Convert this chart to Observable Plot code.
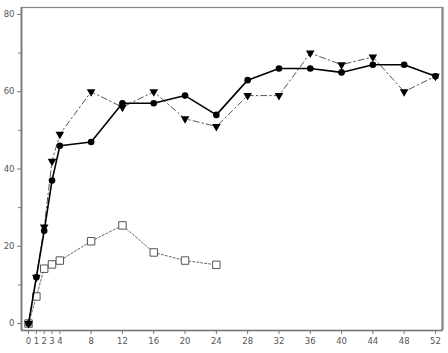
<!DOCTYPE html>
<html><head><meta charset="utf-8">
<script src="https://cdn.jsdelivr.net/npm/d3@7"></script>
<script src="https://cdn.jsdelivr.net/npm/@observablehq/plot@0.6"></script>
<style>body{margin:0;background:#fff}</style>
</head><body><div id="chart"></div>
<script>
const weeksA = [0,1,2,3,4,8,12,16,20,24,28,32,36,40,44,48,52];
const seriesA = [0,12,24,37,46,47,57,57,59,54,63,66,66,65,67,67,64];
const weeksB = [0,1,2,3,4,8,12,16,20,24,28,32,36,40,44,48,52];
const seriesB = [0,12,25,42,49,60,56,60,53,51,59,59,70,67,69,60,64];
const weeksC = [0,1,2,3,4,8,12,16,20,24];
const seriesC = [0,7,14.2,15.3,16.3,21.3,25.4,18.4,16.3,15.2];
const xTicks = [0,1,2,3,4,8,12,16,20,24,28,32,36,40,44,48,52];
const yTicks = [0,20,40,60,80];
const yMinor = [10,30,50,70];

const A = weeksA.map((x,i)=>({x,y:seriesA[i]}));
const B = weeksB.map((x,i)=>({x,y:seriesB[i]}));
const C = weeksC.map((x,i)=>({x,y:seriesC[i]}));
const axisColor = "#777";

const chart = Plot.plot({
  width: 448, height: 353,
  marginLeft: 21, marginRight: 6, marginTop: 7, marginBottom: 23,
  style: {fontFamily: "DejaVu Sans, sans-serif", fontSize: "8.5px", color: "#555", background: "#fff"},
  x: {domain: [-0.9, 52.9], label: null},
  y: {domain: [-1.8, 81.8], label: null},
  marks: [
    Plot.frame({stroke: "#888", strokeWidth: 1.2}),
    Plot.ruleX([52.9], {stroke: "#888", strokeWidth: 2.2}),
    Plot.ruleX([-0.9], {stroke: axisColor, strokeWidth: 1.8}),
    Plot.ruleY([-1.8], {stroke: axisColor, strokeWidth: 1.5}),
    Plot.axisX({ticks: xTicks, tickSize: 4, tickPadding: 3, stroke: axisColor, fill: "#555", tickFormat: d => String(d), label: null}),
    Plot.axisY({ticks: yTicks, tickSize: 4, tickPadding: 3, stroke: axisColor, fill: "#555", label: null}),
    Plot.axisY({ticks: yMinor, tickSize: 3, stroke: axisColor, tickFormat: () => "", label: null}),
    Plot.line(C, {x: "x", y: "y", stroke: "#666", strokeWidth: 1, strokeDasharray: "2,2"}),
    Plot.dot(C, {x: "x", y: "y", symbol: "square", r: 4.2, stroke: "#555", fill: "#fff", strokeWidth: 1}),
    Plot.line(B, {x: "x", y: "y", stroke: "#555", strokeWidth: 1, strokeDasharray: "6,3,1.5,3"}),
    Plot.dot(B, {x: "x", y: "y", symbol: "triangle", rotate: 180, r: 3.2, fill: "#000", stroke: "none"}),
    Plot.line(A, {x: "x", y: "y", stroke: "#000", strokeWidth: 1.6}),
    Plot.dot(A, {x: "x", y: "y", symbol: "circle", r: 3.3, fill: "#000", stroke: "none"})
  ]
});
document.getElementById("chart").append(chart);
</script>
</body></html>
